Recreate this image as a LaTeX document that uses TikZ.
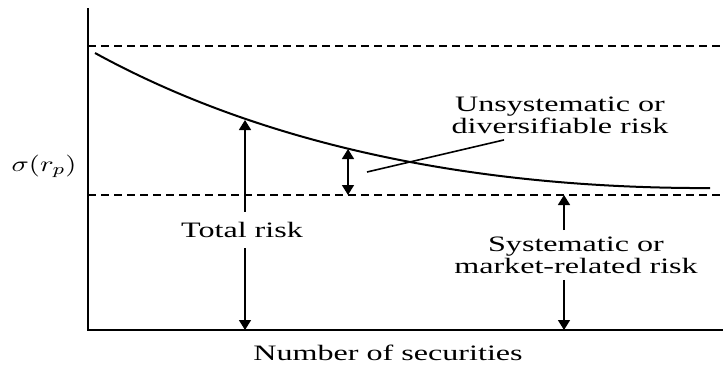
\documentclass[tikz,border=0pt]{standalone}
\usepackage{fontspec}
\setmainfont{Liberation Serif}
\usepackage{graphicx}
\usepackage{tikz}
\usetikzlibrary{arrows.meta}
\newcommand{\wide}[1]{\scalebox{1.46}[1]{#1}}
\tikzset{
  lbl/.style={font=\fontsize{11}{10}\selectfont, align=center, inner sep=3pt},
  guide/.style={line width=0.7pt, dash pattern=on 4pt off 2.5pt},
  riskarrow/.style={-{Triangle[length=5pt,width=6pt]}, line width=0.75pt},
  bothway/.style={{Triangle[length=5pt,width=6pt]}-{Triangle[length=5pt,width=6pt]}, line width=0.75pt},
}

\begin{document}
\begin{tikzpicture}[x=0.5pt,y=0.5pt]
\useasboundingbox (0,0) rectangle (723,366);
% axes
\coordinate (top) at (88,358);
\coordinate (origin) at (88,36);
\coordinate (xend) at (723,36);
\draw[line width=1pt] (top) -- (origin) -- (xend);
% dashed levels
\draw[guide] (88,320) -- (723,320);
\draw[guide] (88,171) -- (723,171);
% risk curve
\draw[line width=1pt] (95,313) .. controls (250,228) and (450,180) .. (690,178) -- (710,178);
% labels
\node[lbl] (sigma) at (44,200) {\scalebox{1.3}[1]{$\sigma(r_p)$}};
\node[lbl] (nsec) at (388,13) {\wide{Number of securities}};
\node[lbl, inner ysep=5pt] (total) at (242,136) {\wide{Total risk}};
\node[lbl] (uns) at (560,251) {\wide{Unsystematic or}\\\wide{diversifiable risk}};
\node[lbl] (sys) at (576,111) {\wide{Systematic or}\\\wide{market-related risk}};
% arrows
\coordinate (trtop) at (245,246);
\coordinate (trbase) at (245,36);
\draw[riskarrow] (total.north -| trtop) -- (trtop);
\draw[riskarrow] (total.south -| trtop) -- (trbase);
\coordinate (dvtop) at (348,217);
\coordinate (dvbase) at (348,171);
\draw[bothway] (dvtop) -- (dvbase);
\coordinate (lead) at (367,194);
\draw[line width=0.8pt] (uns.204) -- (lead);
\coordinate (systop) at (564,171);
\coordinate (sysbase) at (564,36);
\draw[riskarrow] (sys.north -| systop) -- (systop);
\draw[riskarrow] (sys.south -| systop) -- (sysbase);
\end{tikzpicture}
\end{document}
